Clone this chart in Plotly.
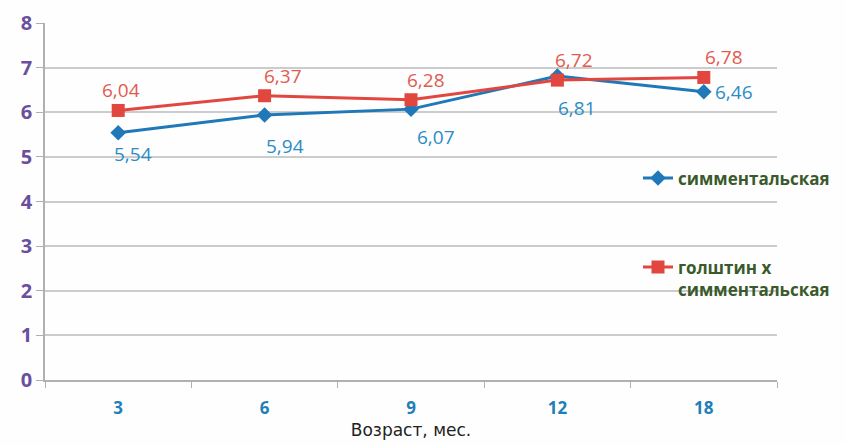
import plotly.graph_objects as go

# Age groups (months) and average values for the two breed groups
ages = ["3", "6", "9", "12", "18"]
simmental = [5.54, 5.94, 6.07, 6.81, 6.46]
holstein_x_simmental = [6.04, 6.37, 6.28, 6.72, 6.78]
y_ticks = [0, 1, 2, 3, 4, 5, 6, 7, 8]

BLUE = "#1f78b8"
BLUE_TXT = "#2b8cc6"
RED = "#e2473f"
RED_TXT = "#e25a4e"

# label offsets (pixels) for each point
blue_shift = [(15, -21), (20, -31), (25, -28), (20, -32), (30, 0)]
red_shift = [(3, 20), (18, 20), (15, 20), (17, 20), (20, 20)]

fig = go.Figure()
fig.add_trace(go.Scatter(
    x=ages, y=simmental, mode="lines+markers", name="симментальская",
    line=dict(color=BLUE, width=3),
    marker=dict(symbol="diamond", size=12, color=BLUE),
    legendgroup="a",
))
fig.add_trace(go.Scatter(
    x=ages, y=holstein_x_simmental, mode="lines+markers",
    name="голштин х<br>симментальская",
    line=dict(color=RED, width=3),
    marker=dict(symbol="square", size=13, color=RED),
    legendgroup="b",
))

def fmt(v):
    return f"{v:.2f}".replace(".", ",")

# category positions are addressed by index
for i, (v, (dx, dy)) in enumerate(zip(simmental, blue_shift)):
    fig.add_annotation(x=i, y=v, text=fmt(v), showarrow=False,
                       xshift=dx, yshift=dy,
                       font=dict(family="Open Sans", size=19, color=BLUE_TXT))
for i, (v, (dx, dy)) in enumerate(zip(holstein_x_simmental, red_shift)):
    fig.add_annotation(x=i, y=v, text=fmt(v), showarrow=False,
                       xshift=dx, yshift=dy,
                       font=dict(family="Open Sans", size=19, color=RED_TXT))

fig.update_layout(
    width=846, height=445,
    margin=dict(l=45, r=68, t=23, b=65),
    paper_bgcolor="#fefefe", plot_bgcolor="#fefefe",
    showlegend=True,
    legend=dict(
        x=0.809, y=0.615, xanchor="left", yanchor="top",
        bgcolor="rgba(0,0,0,0)",
        font=dict(family="Open Sans", size=17, color="#3a5a2c", weight="bold"),
        tracegroupgap=64, valign="top", traceorder="grouped",
        itemwidth=30,
    ),
    xaxis=dict(
        type="category", range=[-0.5, 4.5], automargin=False,
        tickson="boundaries", ticks="outside", ticklen=6, tickcolor="#b0b0b0",
        showline=True, linecolor="#b0b0b0", linewidth=1.5,
        showgrid=False, ticklabelstandoff=12,
        tickfont=dict(family="Open Sans", size=17, color="#1f7fb8", weight="bold"),
        title=dict(text="Возраст, мес.", standoff=6,
                   font=dict(family="DejaVu Sans", size=17, color="#222222")),
    ),
    yaxis=dict(
        range=[0, 8], tickvals=y_ticks, automargin=False,
        ticks="outside", ticklen=7, tickcolor="#b0b0b0",
        showline=True, linecolor="#b0b0b0", linewidth=1.5,
        showgrid=True, gridcolor="#cccccc", gridwidth=1.5,
        zeroline=False,
        tickfont=dict(family="Open Sans", size=20, color="#6a4f9e", weight="bold"),
    ),
)

fig.write_html("out.html")
